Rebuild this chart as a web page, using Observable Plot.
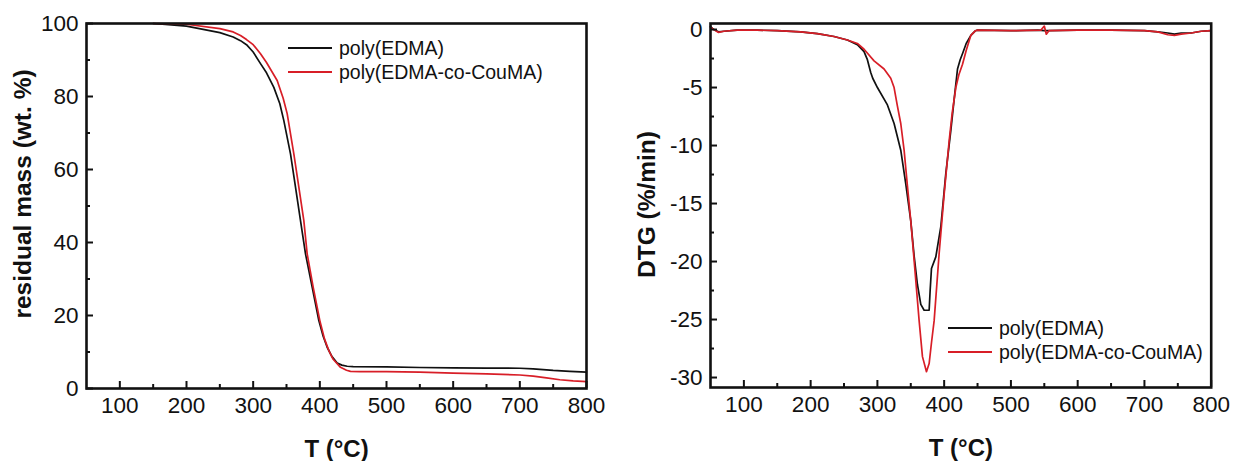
<!DOCTYPE html>
<html><head><meta charset="utf-8">
<script src="https://cdn.jsdelivr.net/npm/d3@7"></script>
<script src="https://cdn.jsdelivr.net/npm/@observablehq/plot@0.6"></script>
<style>
body{margin:0;background:#fff}
#wrap{position:relative;width:1234px;height:461px;display:flex;}
.leg{position:absolute;font-family:"Liberation Sans",Arial,sans-serif;font-size:19.5px;color:#111;}
.row{display:flex;align-items:center;height:24px;white-space:nowrap}
.sw{display:inline-block;width:44px;height:0;border-top:2px solid #000;margin-right:7px}
</style>
</head><body>
<div id="wrap"></div>
<script>
// ---- data ----
const seriesNames = ["poly(EDMA)", "poly(EDMA-co-CouMA)"];
const seriesColors = ["#111111", "#d81e27"];

// TGA (residual mass, wt.%)
const tgaT_edma = [150,200,250,270,281,290,300,311,320,331,340,346,356,363.5,371,378.5,388.5,398.5,405,411,418,426,433,441,450,500,550,600,650,700,720,750,775,800];
const tga_edma  = [100,99.3,97.5,96.3,95.3,94.2,92.2,89,86.5,82.5,78,73.4,64.3,55.2,46,36.9,27.8,18.6,14.3,11.3,8.8,7.0,6.4,6.1,6.0,5.9,5.75,5.65,5.6,5.55,5.4,4.95,4.7,4.5];
const tgaT_cou  = [150,200,250,270,281,290,300,311,320,336,345,351,361,368.5,376,381,390,400,407,413.5,420,431,440,446,460,500,550,600,650,700,720,740,760,780,800];
const tga_cou   = [100,99.8,98.6,97.7,96.7,95.6,94.2,91.7,89.3,84.4,79.5,75.3,64.3,55.2,46,36.9,27.8,18.6,13.6,10.4,8.0,5.8,5.0,4.7,4.6,4.6,4.5,4.2,4.0,3.7,3.4,2.9,2.4,2.1,1.9];

// DTG (%/min)
const dtgT_edma = [50,55,62,70,90,120,150,185,210,235,255,270,280,285,290,293,300,315,325,335,342.5,350,355,360,365,370,377.5,379,381,387.5,395,402.5,410,415,420,424,428,433,440,447,450,500,540,550,555,600,650,700,720,735,745,755,770,785,800];
const dtg_edma  = [0.25,0.0,-0.2,-0.15,-0.05,-0.05,-0.1,-0.2,-0.35,-0.6,-0.9,-1.3,-1.9,-2.6,-3.7,-4.2,-5.0,-6.5,-8.1,-10.4,-13.3,-16.5,-19.5,-22,-23.7,-24.2,-24.2,-22.5,-20.6,-19.6,-17,-12.4,-8.7,-6,-3.4,-2.6,-2.0,-1.2,-0.5,-0.1,-0.05,-0.1,-0.05,-0.1,-0.1,-0.05,-0.05,-0.1,-0.2,-0.3,-0.4,-0.3,-0.3,-0.15,-0.1];
const dtgT_cou  = [50,55,62,70,90,120,150,185,210,235,255,270,280,295,310,320,325,330,335,340,345,350,355,362.5,367.5,373.5,377.5,381,385,392.5,400,407.5,412,417.5,422,427.5,433,440,447,450,500,545,550,553,557,600,650,700,720,735,745,755,770,785,800];
const dtg_cou   = [0.2,0.0,-0.25,-0.15,-0.05,-0.05,-0.1,-0.2,-0.35,-0.6,-0.9,-1.2,-1.7,-2.7,-3.4,-4.2,-5.0,-6.6,-8.1,-10.4,-13.5,-16.5,-19.9,-25.1,-28.2,-29.5,-28.8,-27,-25.1,-19.3,-14.2,-9.6,-7.2,-5.0,-3.9,-3.0,-1.8,-0.5,-0.1,-0.05,-0.1,-0.05,0.3,-0.4,-0.1,-0.05,-0.05,-0.1,-0.2,-0.45,-0.5,-0.4,-0.3,-0.15,-0.1];

// ticks
const xTicks = [100,200,300,400,500,600,700,800];
const xMinor = [150,250,350,450,550,650,750];
const tgaYTicks = [0,20,40,60,80,100];
const tgaYMinor = [10,30,50,70,90];
const dtgYTicks = [0,-5,-10,-15,-20,-25,-30];
const dtgYMinor = [-2.5,-7.5,-12.5,-17.5,-22.5,-27.5];

const xTitle = "T (°C)";
const tgaTitle = "residual mass (wt. %)";
const dtgTitle = "DTG (%/min)";

// ---- build ----
const toRows = (T, V, s) => T.map((t, i) => ({T: t, v: V[i], s}));
const tgaData = [...toRows(tgaT_edma, tga_edma, seriesNames[0]), ...toRows(tgaT_cou, tga_cou, seriesNames[1])];
const dtgData = [...toRows(dtgT_edma, dtg_edma, seriesNames[0]), ...toRows(dtgT_cou, dtg_cou, seriesNames[1])];

const FONT = "Liberation Sans, Arial, sans-serif";
const fmt = d => String(d);
const xDomain = [50, 800];

function panel({data, yDomain, yTicks, yMinor, yTitle, ml, mr, mb, titleDy}) {
  const W = 617, H = 461, mt = 23;
  const pw = W - ml - mr, ph = H - mt - mb;
  // inward tick lengths converted from pixels to data units
  const xLen = px => (xDomain[1] - xDomain[0]) * px / pw;
  const yLen = px => (yDomain[1] - yDomain[0]) * px / ph;
  const tk = {stroke: "#111", strokeWidth: 2};
  return Plot.plot({
    width: W, height: H,
    marginLeft: ml, marginRight: mr, marginTop: mt, marginBottom: mb,
    style: {fontFamily: FONT, fontSize: "22px", color: "#111", background: "#fff", overflow: "visible"},
    x: {domain: xDomain},
    y: {domain: yDomain},
    color: {domain: seriesNames, range: seriesColors},
    marks: [
      Plot.line(data, {x: "T", y: "v", z: "s", stroke: "s", strokeWidth: 1.7}),
      Plot.ruleX(xTicks, {x: d => d, y1: yDomain[0], y2: yDomain[0] + yLen(7), ...tk}),
      Plot.ruleX(xMinor, {x: d => d, y1: yDomain[0], y2: yDomain[0] + yLen(4), ...tk}),
      Plot.ruleY(yTicks, {y: d => d, x1: xDomain[0], x2: xDomain[0] + xLen(7), ...tk}),
      Plot.ruleY(yMinor, {y: d => d, x1: xDomain[0], x2: xDomain[0] + xLen(4), ...tk}),
      Plot.frame({stroke: "#111", strokeWidth: 2.6}),
      Plot.axisX({ticks: xTicks, tickSize: 0, tickPadding: 9, label: null, fontSize: 22.5, tickFormat: fmt}),
      Plot.axisY({ticks: yTicks, tickSize: 0, tickPadding: 8, label: null, fontSize: 22.5, tickFormat: fmt}),
      Plot.text([xTitle], {text: d => d, frameAnchor: "bottom", dy: 51, lineAnchor: "top", textAnchor: "middle", fontWeight: "bold", fontSize: 24, fill: "#111"}),
      Plot.text([yTitle], {text: d => d, frameAnchor: "left", dx: -73, dy: titleDy, rotate: -90, lineAnchor: "top", textAnchor: "middle", fontWeight: "bold", fontSize: 24.5, fill: "#111"})
    ]
  });
}

const wrap = document.getElementById("wrap");
wrap.append(panel({data: tgaData, yDomain: [0, 100], yTicks: tgaYTicks, yMinor: tgaYMinor, yTitle: tgaTitle, ml: 86, mr: 31, mb: 73, titleDy: -12}));
wrap.append(panel({data: dtgData, yDomain: [-30.86, 0.52], yTicks: dtgYTicks, yMinor: dtgYMinor, yTitle: dtgTitle, ml: 93, mr: 23.3, mb: 74, titleDy: -1}));

function legend(left, top) {
  const d = document.createElement("div");
  d.className = "leg";
  d.style.left = left + "px";
  d.style.top = top + "px";
  seriesNames.forEach((n, i) => {
    const r = document.createElement("div");
    r.className = "row";
    const sw = document.createElement("span");
    sw.className = "sw";
    sw.style.borderTopColor = seriesColors[i];
    r.append(sw, document.createTextNode(n));
    d.append(r);
  });
  wrap.append(d);
}
legend(288, 36);
legend(948, 316);
</script>
</body></html>
